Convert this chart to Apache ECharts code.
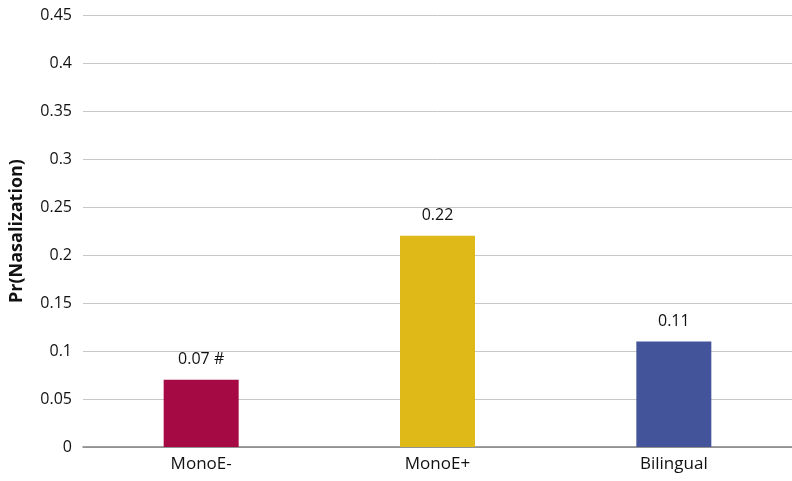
<!DOCTYPE html>
<html>
<head>
<meta charset="utf-8">
<script src="https://cdn.jsdelivr.net/npm/echarts@6/dist/echarts.min.js"></script>
<style>
  html, body { margin: 0; padding: 0; background: #fff; }
  #chart { width: 792px; height: 481px; }
</style>
</head>
<body>
<div id="chart"></div>
<script>
const groups      = ['MonoE-', 'MonoE+', 'Bilingual'];
const values      = [0.07, 0.22, 0.11];
const valueLabels = ['0.07 #', '0.22', '0.11'];
const barColors   = ['#A50A45', '#DFB917', '#44549B'];

const font = '"Open Sans", "Noto Sans", sans-serif';

const chart = echarts.init(document.getElementById('chart'));

const option = {
    animation: false,
    grid: { left: 83, right: 0, top: 15, bottom: 34 },
    xAxis: {
        type: 'category',
        data: groups,
        axisTick: { show: false },
        axisLine: { lineStyle: { color: '#808080', width: 1.5 } },
        axisLabel: { color: '#111', fontSize: 17, fontFamily: font, margin: 9 }
    },
    yAxis: {
        type: 'value',
        min: 0,
        max: 0.45,
        interval: 0.05,
        name: 'Pr(Nasalization)',
        nameLocation: 'middle',
        nameGap: 57,
        nameTextStyle: { color: '#111', fontSize: 18, fontWeight: 'bold', fontFamily: font },
        axisLine: { show: false },
        axisTick: { show: false },
        axisLabel: {
            color: '#111', fontSize: 16, fontFamily: font, margin: 11,
            formatter: v => String(+v.toFixed(2))
        },
        splitLine: { lineStyle: { color: '#c8c8c8', width: 1 } }
    },
    series: [{
        type: 'bar',
        barWidth: 75,
        data: values.map((v, i) => ({ value: v, itemStyle: { color: barColors[i] } })),
        label: {
            show: true,
            position: 'top',
            distance: 12,
            color: '#111',
            fontSize: 16,
            fontFamily: font,
            formatter: p => valueLabels[p.dataIndex]
        }
    }]
};

chart.setOption(option);
</script>
</body>
</html>
